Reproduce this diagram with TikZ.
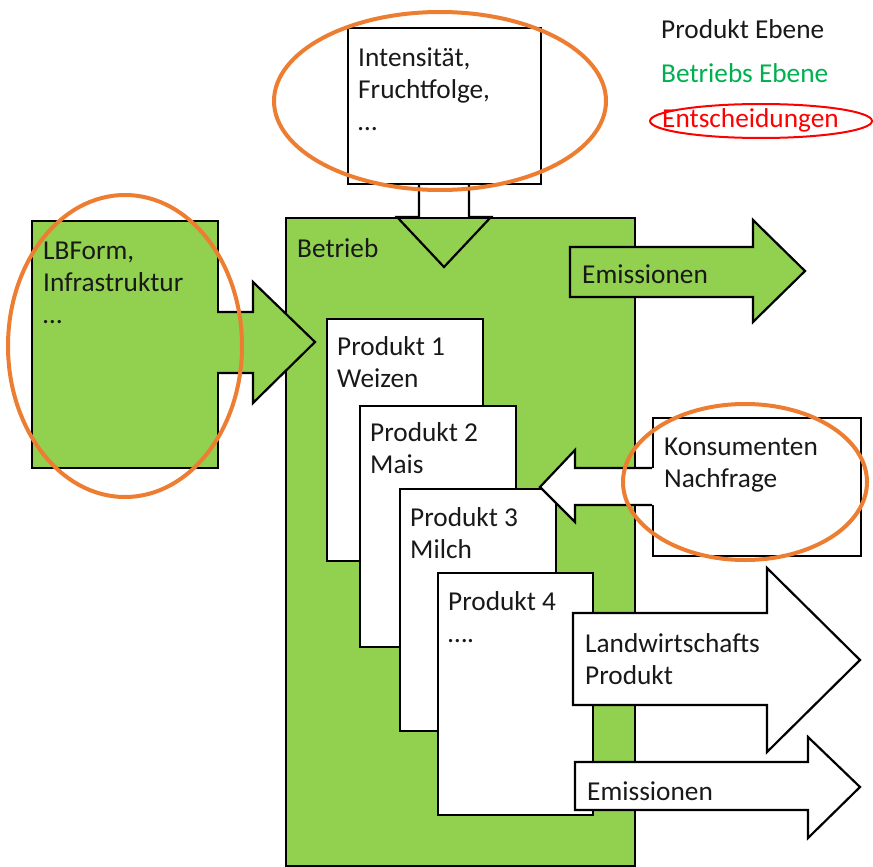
\documentclass[tikz,border=0pt]{standalone}
\usepackage{fontspec}
\setmainfont{Carlito}
\definecolor{lgreen}{HTML}{92D050}
\definecolor{oline}{HTML}{ED7D31}
\definecolor{tgreen}{HTML}{00B050}
\tikzset{
  outl/.style={draw=black, line width=2.2pt, line join=miter},
  boxw/.style={outl, fill=white, anchor=north west, inner sep=0pt},
  boxg/.style={outl, fill=lgreen, anchor=north west, inner sep=0pt},
  txt/.style={font=\fontsize{27.3}{32}\selectfont, anchor=base west, inner sep=0pt, align=left, text=black!90},
  decision/.style={draw=oline, line width=4pt},
}
\begin{document}
\begin{tikzpicture}[x=1pt,y=-1pt]
\useasboundingbox (0,0) rectangle (873,867);
% top box and down arrow
\node[boxw, minimum width=193pt, minimum height=156pt] (topbox) at (347,27) {};
\draw[outl] (419,183) -- (419,217) -- (397,217) -- (444,267) -- (491,217) -- (469,217) -- (469,183);
% Betrieb
\node[boxg, minimum width=349pt, minimum height=648pt] (betrieb) at (285,217) {};
\draw[outl] (397,217) -- (444,267) -- (491,217);
% left box and arrow
\node[boxg, minimum width=186pt, minimum height=247pt] (lbbox) at (31,220) {};
\fill[lgreen] (216,312) -- (253,312) -- (253,282) -- (315,342) -- (253,403) -- (253,373) -- (216,373) -- cycle;
\draw[outl] (217,312) -- (253,312) -- (253,282) -- (315,342) -- (253,403) -- (253,373) -- (217,373);
% green emission arrow
\draw[outl, fill=lgreen] (570,247) -- (753,247) -- (753,220) -- (805,271) -- (753,322) -- (753,297) -- (570,297) -- cycle;
% product boxes
\node[boxw, minimum width=156pt, minimum height=242pt] (p1) at (326,318) {};
\node[boxw, minimum width=156pt, minimum height=241pt] (p2) at (359,405) {};
\node[boxw, minimum width=156pt, minimum height=242pt] (p3) at (399,488) {};
\node[boxw, minimum width=155pt, minimum height=242pt] (p4) at (437,572) {};
% Konsumenten
\node[boxw, minimum width=208pt, minimum height=138pt] (kons) at (652,417) {};
\fill[white] (654,468) -- (575,468) -- (575,450) -- (540,487) -- (575,522) -- (575,505) -- (654,505) -- cycle;
\draw[outl] (652,468) -- (575,468) -- (575,450) -- (540,487) -- (575,522) -- (575,505) -- (652,505);
% output arrows
\draw[outl, fill=white] (573,613) -- (767,613) -- (767,568) -- (860,660) -- (767,752) -- (767,705) -- (573,705) -- cycle;
\draw[outl, fill=white] (575,762) -- (808,762) -- (808,737) -- (860,787) -- (808,838) -- (808,810) -- (575,810) -- cycle;
% texts (anchor = baseline of the last line)
\node[txt] (t-top) at (358,130) {Intensität,\\Fruchtfolge,\\…};
\node[txt] (t-lb) at (43,323) {LBForm,\\Infrastruktur\\…};
\node[txt] (t-betrieb) at (297,257) {Betrieb};
\node[txt] (t-em1) at (582,283) {Emissionen};
\node[txt] (t-p1) at (337,387) {Produkt 1\\Weizen};
\node[txt] (t-p2) at (370,473) {Produkt 2\\Mais};
\node[txt] (t-p3) at (410,558) {Produkt 3\\Milch};
\node[txt] (t-p4) at (448,642) {Produkt 4\\….};
\node[txt] (t-kons) at (664,487) {Konsumenten\\Nachfrage};
\node[txt] (t-lw) at (585,684) {Landwirtschafts\\Produkt};
\node[txt] (t-em2) at (587,800) {Emissionen};
% legend
\node[txt] (l1) at (661,39) {Produkt Ebene};
\node[txt, text=tgreen] (l2) at (661,82) {Betriebs Ebene};
\node[txt, text=red] (l3) at (662,128) {Entscheidungen};
% decision ellipses
\draw[decision] (440,101) ellipse [x radius=166, y radius=89];
\draw[decision] (125,346) ellipse [x radius=117, y radius=151];
\draw[decision] (745,482) ellipse [x radius=122, y radius=78];
\draw[draw=red, line width=2pt] (761,121) ellipse [x radius=111, y radius=17];
\end{tikzpicture}
\end{document}
